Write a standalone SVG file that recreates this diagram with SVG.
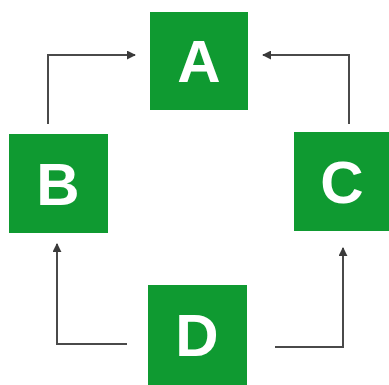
<svg xmlns="http://www.w3.org/2000/svg" width="389" height="385" viewBox="0 0 389 385">
  <style>
    .box { fill: #0f9a31; }
    .lbl { fill: #ffffff; font-family: "Liberation Sans", Arial, sans-serif; font-weight: bold; font-size: 60px; text-anchor: middle; }
    .wire { fill: none; stroke: #4a4a4a; stroke-width: 2; }
  </style>
  <defs>
    <marker id="head" viewBox="0 0 10 10" refX="9" refY="5" markerWidth="9" markerHeight="9" markerUnits="userSpaceOnUse" orient="auto">
      <path d="M0,0 L10,5 L0,10 z" fill="#3a3a3a"/>
    </marker>
  </defs>
  <rect width="389" height="385" fill="#ffffff"/>

  <g id="connectors">
    <path class="wire" d="M48,124 V55 H135" marker-end="url(#head)"/>
    <path class="wire" d="M349,124 V55 H263" marker-end="url(#head)"/>
    <path class="wire" d="M127,344 H57 V244" marker-end="url(#head)"/>
    <path class="wire" d="M275,347 H343 V248" marker-end="url(#head)"/>
  </g>

  <g id="node-A">
    <rect class="box" x="150" y="12" width="98" height="98"/>
    <text class="lbl" x="199" y="82">A</text>
  </g>
  <g id="node-B">
    <rect class="box" x="9" y="134" width="99" height="99"/>
    <text class="lbl" x="58" y="205">B</text>
  </g>
  <g id="node-C">
    <rect class="box" x="294" y="132" width="96" height="99"/>
    <text class="lbl" x="342" y="203">C</text>
  </g>
  <g id="node-D">
    <rect class="box" x="148" y="285" width="99" height="100"/>
    <text class="lbl" x="197" y="356">D</text>
  </g>
</svg>
